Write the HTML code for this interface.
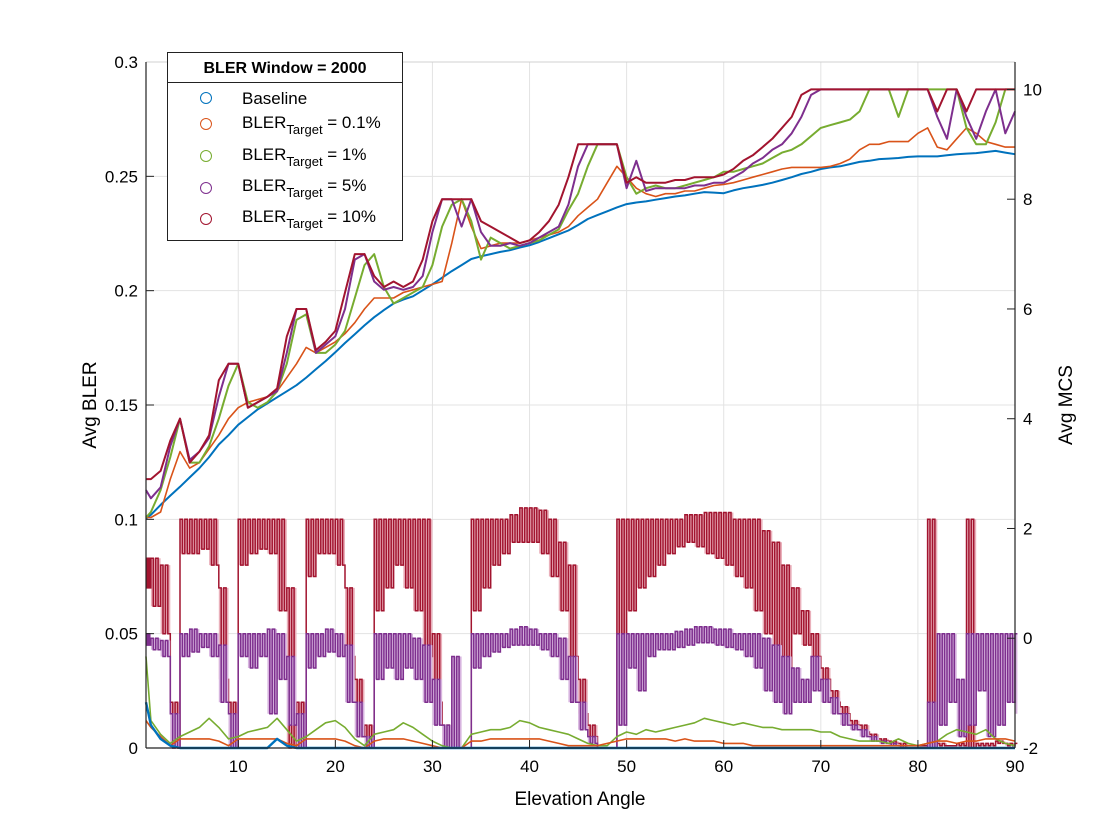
<!DOCTYPE html>
<html><head><meta charset="utf-8"><style>
body{margin:0;background:#fff;}
svg{display:block;font-family:"Liberation Sans",Arial,sans-serif;}
</style></head><body>
<svg id="chart" width="1120" height="840" viewBox="0 0 1120 840">
<rect x="0" y="0" width="1120" height="840" fill="#fff"/>
<g id="grid"></g>
<g id="series"></g>
<g id="axes"></g>
<text x="580" y="805" font-size="19" text-anchor="middle">Elevation Angle</text>
<text transform="translate(96,405) rotate(-90)" font-size="19" text-anchor="middle">Avg BLER</text>
<text transform="translate(1072,405) rotate(-90)" font-size="19" text-anchor="middle">Avg MCS</text>
<g>
<rect x="167.5" y="52.5" width="235" height="188" fill="#fff" stroke="#222" stroke-width="1"/>
<line x1="167.5" y1="82.5" x2="402.5" y2="82.5" stroke="#222" stroke-width="1"/>
<text x="285" y="73" font-size="16" font-weight="bold" text-anchor="middle">BLER Window = 2000</text>
<g><circle cx="206" cy="98" r="5.5" fill="none" stroke="#0072BD"/><text x="242" y="104" font-size="17">Baseline</text></g>
<g><circle cx="206" cy="124" r="5.5" fill="none" stroke="#D95319"/><text x="242" y="128" font-size="17">BLER<tspan font-size="13" dy="6">Target</tspan><tspan dy="-6"> = 0.1%</tspan></text></g>
<g><circle cx="206" cy="156" r="5.5" fill="none" stroke="#77AC30"/><text x="242" y="160" font-size="17">BLER<tspan font-size="13" dy="6">Target</tspan><tspan dy="-6"> = 1%</tspan></text></g>
<g><circle cx="206" cy="188" r="5.5" fill="none" stroke="#7E2F8E"/><text x="242" y="191" font-size="17">BLER<tspan font-size="13" dy="6">Target</tspan><tspan dy="-6"> = 5%</tspan></text></g>
<g><circle cx="206" cy="219" r="5.5" fill="none" stroke="#A2142F"/><text x="242" y="222" font-size="17">BLER<tspan font-size="13" dy="6">Target</tspan><tspan dy="-6"> = 10%</tspan></text></g>
</g>
</svg>
<script>
const angles=[0.5];for(let i=1;i<=90;i++)angles.push(i);
const xTicks=[10,20,30,40,50,60,70,80,90];
const leftTicks=[0,0.05,0.1,0.15,0.2,0.25,0.3];
const leftTickLabels=["0","0.05","0.1","0.15","0.2","0.25","0.3"];
const rightTicks=[-2,0,2,4,6,8,10];
// MCS (right axis)
const mcsBaseline=[2.18,2.25,2.43,2.6,2.76,2.93,3.1,3.3,3.53,3.7,3.89,4.03,4.17,4.28,4.39,4.5,4.61,4.75,4.9,5.05,5.21,5.38,5.54,5.7,5.85,5.98,6.1,6.17,6.23,6.34,6.45,6.57,6.69,6.8,6.91,6.96,7.0,7.04,7.07,7.12,7.16,7.22,7.29,7.36,7.43,7.53,7.64,7.71,7.78,7.85,7.91,7.94,7.96,7.99,8.02,8.05,8.07,8.1,8.13,8.12,8.11,8.16,8.2,8.23,8.26,8.3,8.35,8.4,8.46,8.5,8.55,8.58,8.6,8.64,8.68,8.7,8.73,8.74,8.75,8.77,8.78,8.78,8.78,8.8,8.82,8.83,8.84,8.86,8.88,8.85,8.82];
const mcsT01=[2.2,2.2,2.3,2.9,3.4,3.1,3.2,3.45,3.7,4.0,4.2,4.3,4.35,4.4,4.5,4.75,5.0,5.3,5.2,5.3,5.4,5.55,5.75,6.0,6.2,6.2,6.2,6.3,6.35,6.4,6.45,6.5,7.2,8.0,7.5,7.1,7.15,7.2,7.2,7.2,7.25,7.3,7.35,7.4,7.5,7.7,7.85,8.0,8.3,8.6,8.4,8.2,8.1,8.05,8.1,8.1,8.15,8.15,8.2,8.25,8.27,8.3,8.35,8.4,8.45,8.5,8.55,8.58,8.58,8.58,8.58,8.6,8.65,8.73,8.9,9.0,9.0,9.05,9.05,9.05,9.2,9.3,8.95,8.9,9.1,9.3,9.2,9.05,9.0,8.95,8.95];
const mcsT1=[2.2,2.3,2.7,3.3,4.0,3.2,3.2,3.5,4.0,4.6,5.0,4.3,4.2,4.3,4.5,5.0,5.8,5.9,5.2,5.2,5.35,5.6,6.2,6.8,7.0,6.4,6.1,6.2,6.3,6.4,6.8,7.5,7.9,8.0,7.6,6.9,7.3,7.2,7.1,7.15,7.2,7.25,7.35,7.45,7.8,8.1,8.6,9.0,9.0,9.0,8.4,8.1,8.2,8.25,8.2,8.2,8.25,8.3,8.35,8.4,8.5,8.5,8.55,8.6,8.65,8.75,8.85,8.9,9.0,9.15,9.3,9.35,9.4,9.45,9.6,10,10,10,9.5,10,10,10,10,10,10,9.3,9.0,9.0,9.4,10,10];
const mcsT5=[2.7,2.55,2.75,3.5,4.0,3.25,3.4,3.65,4.4,5.0,5.0,4.2,4.3,4.4,4.5,5.2,6.0,6.0,5.2,5.35,5.5,6.0,6.9,7.0,6.5,6.35,6.4,6.35,6.4,6.6,7.4,8.0,8.0,7.5,8.0,7.4,7.15,7.15,7.2,7.15,7.2,7.3,7.4,7.5,7.9,8.6,9.0,9.0,9.0,9.0,8.2,8.7,8.15,8.2,8.2,8.2,8.2,8.25,8.25,8.3,8.3,8.4,8.5,8.65,8.75,8.9,9.0,9.2,9.5,9.9,10,10,10,10,10,10,10,10,10,10,10,10,9.5,9.1,10,9.5,9.1,9.6,10,9.2,9.6];
const mcsT10=[2.9,2.9,3.05,3.6,4.0,3.2,3.4,3.7,4.7,5.0,5.0,4.2,4.3,4.4,4.55,5.5,6.0,6.0,5.25,5.4,5.6,6.3,7.0,7.0,6.6,6.4,6.5,6.4,6.5,6.9,7.6,8.0,8.0,8.0,8.0,7.6,7.5,7.4,7.3,7.2,7.25,7.4,7.6,7.9,8.4,9.0,9.0,9.0,9.0,9.0,8.3,8.4,8.3,8.3,8.3,8.35,8.35,8.4,8.4,8.4,8.45,8.55,8.7,8.8,8.95,9.1,9.3,9.5,9.9,10,10,10,10,10,10,10,10,10,10,10,10,10,9.6,10,10,9.6,10,10,10,10,10];
// BLER (left axis)
const blerBaseline=[0.02,0.01,0.004,0.001,0,0,0,0,0,0,0,0,0,0,0.004,0.001,0,0,0,0,0,0,0,0,0,0,0,0,0,0,0,0,0,0,0,0,0,0,0,0,0,0,0,0,0,0,0,0,0,0,0,0,0,0,0,0,0,0,0,0,0,0,0,0,0,0,0,0,0,0,0,0,0,0,0,0,0,0,0,0,0,0,0,0,0,0,0,0,0,0,0];
const blerT01=[0.012,0.009,0.005,0.001,0.004,0.004,0.004,0.004,0.003,0.001,0.004,0.004,0.004,0.004,0.004,0.002,0.001,0.004,0.004,0.004,0.004,0.003,0.001,0,0.003,0.004,0.004,0.004,0.003,0.002,0.001,0,0,0,0.003,0.003,0.004,0.004,0.004,0.004,0.004,0.004,0.003,0.002,0.001,0.001,0.001,0.001,0.002,0.003,0.004,0.004,0.004,0.004,0.004,0.003,0.004,0.003,0.003,0.003,0.002,0.002,0.002,0.001,0.001,0.001,0.001,0.001,0.001,0.001,0.001,0.001,0.001,0.001,0.001,0.001,0.001,0.001,0.001,0.001,0.001,0.002,0.003,0.003,0.002,0.003,0.003,0.004,0.004,0.004,0.003];
const blerT1=[0.04,0.012,0.006,0.002,0.005,0.007,0.009,0.013,0.009,0.004,0.005,0.007,0.008,0.009,0.013,0.008,0.003,0.005,0.008,0.011,0.012,0.009,0.004,0.001,0.006,0.007,0.008,0.011,0.009,0.006,0.003,0.001,0,0,0.006,0.007,0.008,0.008,0.009,0.012,0.011,0.009,0.008,0.007,0.006,0.004,0.002,0.001,0.001,0.005,0.007,0.006,0.008,0.007,0.008,0.009,0.010,0.011,0.013,0.012,0.011,0.010,0.011,0.010,0.009,0.009,0.008,0.008,0.008,0.008,0.007,0.007,0.005,0.004,0.003,0.003,0.003,0.002,0.004,0.002,0.001,0.002,0.003,0.006,0.008,0.007,0.006,0.008,0.004,0.002,0.001];
const blerT5Hi=[0.05,0.048,0.047,0.015,0.05,0.052,0.05,0.05,0.045,0.015,0.05,0.05,0.05,0.052,0.05,0.04,0.015,0.05,0.05,0.052,0.05,0.045,0.02,0.005,0.05,0.05,0.05,0.05,0.048,0.045,0.03,0.01,0.04,0,0.05,0.05,0.05,0.05,0.052,0.053,0.052,0.05,0.05,0.048,0.04,0.02,0.005,0,0,0.05,0.05,0.05,0.05,0.05,0.05,0.051,0.052,0.053,0.053,0.052,0.052,0.05,0.05,0.05,0.048,0.045,0.04,0.035,0.03,0.04,0.03,0.022,0.015,0.01,0.008,0.005,0.003,0.002,0.001,0,0,0.02,0.05,0.05,0.03,0.05,0.05,0.05,0.05,0.05,0.05];
const blerT5Lo=[0.045,0.043,0.04,0,0.04,0.042,0.044,0.04,0.02,0,0.04,0.035,0.04,0.015,0.03,0.01,0,0.035,0.04,0.042,0.04,0.02,0.005,0,0.03,0.035,0.03,0.035,0.03,0.02,0.01,0,0,0,0.035,0.04,0.042,0.044,0.045,0.045,0.045,0.043,0.04,0.03,0.02,0.008,0.002,0,0,0.01,0.035,0.025,0.04,0.043,0.043,0.044,0.045,0.046,0.046,0.045,0.044,0.043,0.04,0.035,0.025,0.02,0.015,0.02,0.02,0.025,0.02,0.015,0.01,0.008,0.005,0.003,0.002,0.001,0,0,0,0,0.01,0.02,0.005,0.01,0.025,0.005,0.01,0.02,0.015];
const blerT10Hi=[0.083,0.083,0.08,0.02,0.1,0.1,0.1,0.1,0.07,0.02,0.1,0.1,0.1,0.1,0.1,0.07,0.02,0.1,0.1,0.1,0.1,0.07,0.03,0.01,0.1,0.1,0.1,0.1,0.1,0.1,0.05,0.01,0,0,0.1,0.1,0.1,0.1,0.102,0.105,0.105,0.104,0.1,0.09,0.08,0.03,0.01,0,0,0.1,0.1,0.1,0.1,0.1,0.1,0.1,0.102,0.102,0.103,0.103,0.103,0.1,0.1,0.1,0.095,0.09,0.08,0.07,0.06,0.05,0.035,0.025,0.018,0.012,0.01,0.006,0.004,0.003,0.002,0.001,0.001,0.1,0.002,0.001,0.002,0.1,0.002,0.002,0.003,0.002,0.002];
const blerT10Lo=[0.07,0.062,0.05,0,0.085,0.085,0.087,0.08,0.03,0,0.08,0.085,0.087,0.085,0.06,0,0,0.075,0.085,0.085,0.08,0.04,0.005,0,0.06,0.07,0.08,0.07,0.06,0.04,0.02,0,0,0,0.06,0.07,0.08,0.085,0.09,0.09,0.09,0.085,0.075,0.06,0.04,0.015,0.005,0,0,0.04,0.06,0.07,0.075,0.08,0.085,0.088,0.09,0.088,0.085,0.083,0.08,0.075,0.07,0.06,0.05,0.04,0.03,0.05,0.045,0.04,0.03,0.02,0.015,0.01,0.007,0.004,0.003,0.002,0.001,0.001,0.001,0,0.001,0.001,0.001,0,0.001,0.001,0.002,0.001,0.002];

const L=146,R=1015,T=62,B=748;
const xMin=0.5,xMax=90;
const sx=v=>L+(v-xMin)/(xMax-xMin)*(R-L);
const syL=v=>B-v/0.3*(B-T);
const syR=v=>B-(v+2)/12.5*(B-T);
const NS="http://www.w3.org/2000/svg";
const gridG=document.getElementById('grid'),serG=document.getElementById('series'),axesG=document.getElementById('axes');
function mk(tag,attrs,parent){const e=document.createElementNS(NS,tag);for(const k in attrs)e.setAttribute(k,attrs[k]);parent.appendChild(e);return e;}

xTicks.forEach(t=>{
  const x=sx(t);
  if(t<90){const g=mk('line',{x1:x,y1:T,x2:x,y2:B,stroke:'#e3e3e3','stroke-width':1},gridG);
  
  }
  const tk=mk('line',{x1:x,y1:B,x2:x,y2:B-8,stroke:'#222','stroke-width':1},axesG);
  
  
  const lb=mk('text',{x:x,y:B+24,'font-size':17,'text-anchor':'middle'},axesG);lb.textContent=t;
  
  
});
leftTicks.forEach((t,i)=>{
  const y=syL(t);
  if(t>0&&t<0.3){const g=mk('line',{x1:L,y1:y,x2:R,y2:y,stroke:'#e3e3e3','stroke-width':1},gridG);
  
  }
  const tk=mk('line',{x1:L,y1:y,x2:L+8,y2:y,stroke:'#222','stroke-width':1},axesG);
  
  
  const lb=mk('text',{x:L-8,y:y+6,'font-size':17,'text-anchor':'end'},axesG);lb.textContent=leftTickLabels[i];
  
  
});
rightTicks.forEach(t=>{
  const y=syR(t);
  const tk=mk('line',{x1:R,y1:y,x2:R-8,y2:y,stroke:'#222','stroke-width':1},axesG);
  
  
  const lb=mk('text',{x:R+8,y:y+6,'font-size':17,'text-anchor':'start'},axesG);lb.textContent=t;
  
  
});
const topBorder=mk('line',{x1:L,y1:T,x2:R,y2:T,stroke:'#d0d0d0','stroke-width':1},axesG);


const leftAxis=mk('line',{x1:L,y1:T,x2:L,y2:B,stroke:'#222','stroke-width':1.2},axesG);


const rightAxis=mk('line',{x1:R,y1:T,x2:R,y2:B,stroke:'#222','stroke-width':1.2},axesG);


const bottomAxis=mk('line',{x1:L,y1:B,x2:R,y2:B,stroke:'#222','stroke-width':1.2},axesG);



function drawLine(vals,sy,color,name,w){
  const pts=vals.map((v,i)=>sx(angles[i]).toFixed(1)+','+sy(v).toFixed(1)).join(' ');
  const p=mk('polyline',{points:pts,fill:'none',stroke:color,'stroke-width':w||1.6,'stroke-linejoin':'round'},serG);
  
  
}
function drawBand(hi,lo,sy,color,fill,name){
  // square-wave trace between hi and lo envelopes, two cycles per degree
  const pts=[];const fillTop=[],fillBot=[];
  for(let i=0;i<hi.length;i++){
    const a=angles[i];const nx=i+1<angles.length?angles[i+1]:a+0.25;const d=nx-a;
    const steps=i+1<angles.length?4:1;
    for(let k=0;k<steps;k++){
      const x0=sx(a+d*k/steps),x1=sx(a+d*(k+1)/steps);
      const v=(k%2===0)?hi[i]:lo[i];const y=sy(v).toFixed(1);
      pts.push(x0.toFixed(1)+','+y);pts.push(x1.toFixed(1)+','+y);
    }
    const xa=sx(a).toFixed(1),xb=sx(nx).toFixed(1);
    fillTop.push(xa+','+sy(hi[i]).toFixed(1));fillTop.push(xb+','+sy(hi[i]).toFixed(1));
    fillBot.unshift(xa+','+sy(lo[i]).toFixed(1));fillBot.unshift(xb+','+sy(lo[i]).toFixed(1));
  }
  const f=mk('polygon',{points:fillTop.concat(fillBot).join(' '),fill:fill,stroke:'none'},serG);
  
  
  const p=mk('polyline',{points:pts.join(' '),fill:'none',stroke:color,'stroke-width':1.5,'stroke-linejoin':'miter'},serG);
  
  
}
drawBand(blerT10Hi,blerT10Lo,syL,'#A2142F','#eab0bb','bler-target-10-line');
drawBand(blerT5Hi,blerT5Lo,syL,'#7E2F8E','#d7b4df','bler-target-5-line');
drawLine(blerT1,syL,'#77AC30','bler-target-1-line');
drawLine(blerT01,syL,'#D95319','bler-target-0.1-line');
drawLine(blerBaseline,syL,'#0072BD','bler-baseline-line',2.4);
drawLine(mcsBaseline,syR,'#0072BD','mcs-baseline-line',2);
drawLine(mcsT01,syR,'#D95319','mcs-target-0.1-line');
drawLine(mcsT1,syR,'#77AC30','mcs-target-1-line',2);
drawLine(mcsT5,syR,'#7E2F8E','mcs-target-5-line',2);
drawLine(mcsT10,syR,'#A2142F','mcs-target-10-line',2);
</script>
</body></html>
